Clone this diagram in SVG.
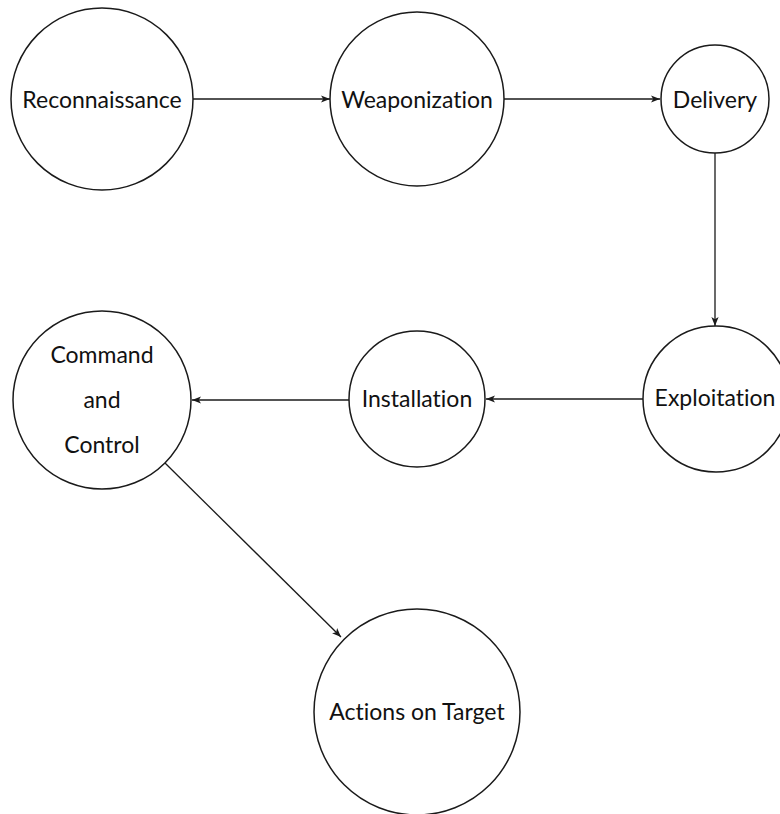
<svg xmlns="http://www.w3.org/2000/svg" width="780" height="814" viewBox="0 0 780 814">
  <style>
    .node circle { fill: #ffffff; stroke: #1a1a1a; stroke-width: 1.5; }
    .node text { font-family: Lato, "Liberation Sans", sans-serif; font-size: 23px; fill: #111111; text-anchor: middle; font-variant-ligatures: none; font-feature-settings: "liga" 0, "dlig" 0; }
    .edge { stroke: #1a1a1a; stroke-width: 1.3; fill: none; marker-end: url(#arrow); }
  </style>
  <defs>
    <marker id="arrow" viewBox="0 0 10 8" refX="10" refY="4" markerWidth="9" markerHeight="7.2" markerUnits="userSpaceOnUse" orient="auto">
      <path d="M0,0 L10,4 L0,8 L2.5,4 z" fill="#1a1a1a"/>
    </marker>
  </defs>
  <rect width="780" height="814" fill="#ffffff"/>
  <g id="connectors">
    <line class="edge" x1="193" y1="99" x2="330" y2="99"/>
    <line class="edge" x1="504" y1="99" x2="660" y2="99"/>
    <line class="edge" x1="715" y1="153" x2="715" y2="326"/>
    <line class="edge" x1="643" y1="399" x2="486" y2="399"/>
    <line class="edge" x1="349" y1="400" x2="192" y2="400"/>
    <line class="edge" x1="165" y1="463" x2="341" y2="637"/>
  </g>
  <g id="reconnaissance" class="node">
    <circle cx="102" cy="99" r="91"/>
    <text x="102" y="108">Reconnaissance</text>
  </g>
  <g id="weaponization" class="node">
    <circle cx="417" cy="99" r="87"/>
    <text x="417" y="108">Weaponization</text>
  </g>
  <g id="delivery" class="node">
    <circle cx="715" cy="99" r="54"/>
    <text x="715" y="108">Delivery</text>
  </g>
  <g id="exploitation" class="node">
    <circle cx="716" cy="399" r="73"/>
    <text x="715" y="406">Exploitation</text>
  </g>
  <g id="installation" class="node">
    <circle cx="417" cy="399" r="68"/>
    <text x="417" y="407">Installation</text>
  </g>
  <g id="command-and-control" class="node">
    <circle cx="102" cy="400" r="89"/>
    <text x="102" y="363">Command</text>
    <text x="102" y="408">and</text>
    <text x="102" y="453">Control</text>
  </g>
  <g id="actions-on-target" class="node">
    <circle cx="417" cy="712" r="103"/>
    <text x="417" y="720">Actions on Target</text>
  </g>
</svg>
